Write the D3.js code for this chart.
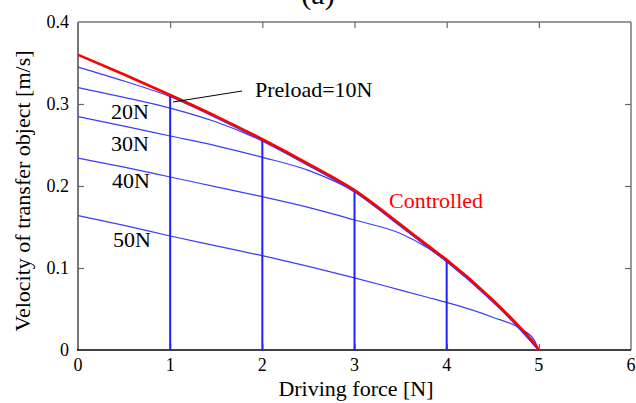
<!DOCTYPE html>
<html>
<head>
<meta charset="utf-8">
<script src="https://cdn.jsdelivr.net/npm/d3@7"></script>
</head>
<body style="margin:0">
<svg id="chart" width="636" height="403"></svg>
<script>
// ---- data ----
const forceGrid = [0, 0.5, 1, 1.5, 2, 2.5, 3, 3.5, 3.8, 4, 4.5, 4.8, 4.95, 5];
const controlled = [0.360, 0.336, 0.311, 0.285, 0.257, 0.227, 0.195, 0.153, 0.127, 0.110, 0.061, 0.027, 0.008, 0];
const preload10 = [0.345, 0.328, 0.309, 0.283, 0.255, 0.225, 0.193, 0.151, 0.125, 0.108, 0.059, 0.025, 0.006, 0];
const preload20 = [0.320, 0.308, 0.295, 0.278, 0.255, 0.225, 0.193, 0.151, 0.125, 0.108, 0.059, 0.025, 0.006, 0];
const preload30 = [0.2845, 0.273, 0.261, 0.249, 0.235, 0.219, 0.193, 0.151, 0.125, 0.108, 0.059, 0.025, 0.006, 0];
const preload40 = [0.234, 0.223, 0.211, 0.199, 0.187, 0.174, 0.1585, 0.142, 0.124, 0.108, 0.059, 0.025, 0.006, 0];
const preload50 = [0.164, 0.152, 0.139, 0.127, 0.115, 0.102, 0.088, 0.073, 0.064, 0.058, 0.040, 0.026, 0.012, 0];
const switchForces = [1, 2, 3, 4];
const switchVelocities = [0.311, 0.257, 0.195, 0.110];
const xTicks = [0, 1, 2, 3, 4, 5, 6];
const yTicks = [0, 0.1, 0.2, 0.3, 0.4];
const yTickLabels = ["0", "0.1", "0.2", "0.3", "0.4"];
const preloadLabels = ["Preload=10N", "20N", "30N", "40N", "50N"];

// ---- layout ----
const svg = d3.select("#chart");
const x = d3.scaleLinear().domain([0, 6]).range([78, 631]);
const y = d3.scaleLinear().domain([0, 0.4]).range([350, 22]);
const FONT = "'Liberation Serif'";

// text helper: plain text node, same form that rendered serif in the font check
function lab(t, px, py, size, fill, anchor, transform) {
  const el = svg.append("text").attr("font-size", size)
    .style("font-family", FONT)
    .attr("fill", fill || "#000")
    .attr("text-anchor", anchor || "start")
    .text(t);
  if (transform) el.attr("transform", transform);
  else el.attr("x", px).attr("y", py);
  return el;
}

// frame
svg.append("line").attr("x1", x(0)).attr("x2", x(6)).attr("y1", y(0.4)).attr("y2", y(0.4))
  .attr("stroke", "#777").attr("stroke-width", 1.5);
svg.append("line").attr("x1", x(6)).attr("x2", x(6)).attr("y1", y(0.4)).attr("y2", y(0))
  .attr("stroke", "#777").attr("stroke-width", 1.5);
svg.append("line").attr("x1", x(0)).attr("x2", x(0)).attr("y1", y(0.4)).attr("y2", y(0))
  .attr("stroke", "#777").attr("stroke-width", 2);
svg.append("line").attr("x1", x(0) - 1).attr("x2", x(6)).attr("y1", y(0)).attr("y2", y(0))
  .attr("stroke", "#000").attr("stroke-width", 1.5);

// tick marks via d3 axes (inward), labels drawn separately
const gxb = svg.append("g").attr("transform", `translate(0,${y(0)})`)
  .call(d3.axisBottom(x).tickValues(xTicks.filter(d => d > 0 && d < 6)).tickSizeInner(-6).tickSizeOuter(0).tickFormat(""));
const gxt = svg.append("g").attr("transform", `translate(0,${y(0.4)})`)
  .call(d3.axisTop(x).tickValues(xTicks.filter(d => d > 0 && d < 6)).tickSizeInner(-6).tickSizeOuter(0).tickFormat(""));
const gyl = svg.append("g").attr("transform", `translate(${x(0)},0)`)
  .call(d3.axisLeft(y).tickValues(yTicks.filter(d => d > 0 && d < 0.4)).tickSizeInner(-6).tickSizeOuter(0).tickFormat(""));
const gyr = svg.append("g").attr("transform", `translate(${x(6)},0)`)
  .call(d3.axisRight(y).tickValues(yTicks.filter(d => d > 0 && d < 0.4)).tickSizeInner(-6).tickSizeOuter(0).tickFormat(""));
[gxb, gxt, gyl, gyr].forEach(a => {
  a.select(".domain").remove();
  a.selectAll(".tick text").remove();
  a.selectAll(".tick line").attr("stroke", "#666").attr("stroke-width", 1.2);
});

// tick labels
xTicks.forEach(d => lab(String(d), x(d), y(0) + 21, 18, "#000", "middle"));
yTicks.forEach((d, i) => lab(yTickLabels[i], x(0) - 9, y(d) + 6, 18, "#000", "end"));

// curves
const line = d3.line().x(d => x(d[0])).y(d => y(d[1])).curve(d3.curveMonotoneX);
const blueSeries = [preload10, preload20, preload30, preload40, preload50];
blueSeries.forEach(vals => {
  svg.append("path")
    .attr("d", line(forceGrid.map((f, i) => [f, vals[i]])))
    .attr("fill", "none").attr("stroke", "#3b3bff").attr("stroke-width", 1.2);
});

// switching verticals
switchForces.forEach((f, i) => {
  svg.append("line")
    .attr("x1", x(f)).attr("x2", x(f))
    .attr("y1", y(0)).attr("y2", y(switchVelocities[i]))
    .attr("stroke", "#1f1fff").attr("stroke-width", 2);
});

// controlled
svg.append("path")
  .attr("d", line(forceGrid.map((f, i) => [f, controlled[i]])))
  .attr("fill", "none").attr("stroke", "#ff0000").attr("stroke-width", 2.6);

// labels
lab(preloadLabels[0], 255, 97, 22);
lab(preloadLabels[1], 111, 119, 22);
lab(preloadLabels[2], 111, 150.5, 22);
lab(preloadLabels[3], 112, 188, 22);
lab(preloadLabels[4], 113, 247, 22);
lab("Controlled", 389, 208, 22, "#ff0000");

// pointer
svg.append("line").attr("x1", 242).attr("y1", 91).attr("x2", 173).attr("y2", 102)
  .attr("stroke", "#000").attr("stroke-width", 1);

// axis titles
lab("Driving force [N]", 356, 396, 22, "#000", "middle");
lab("Velocity of transfer object [m/s]", 0, 0, 22, "#000", "middle", "translate(30,191) rotate(-90)");

// title (cut off at top, as in the reference)
lab("(a)", 318, 4, 30, "#000", "middle");
</script>
</body>
</html>
